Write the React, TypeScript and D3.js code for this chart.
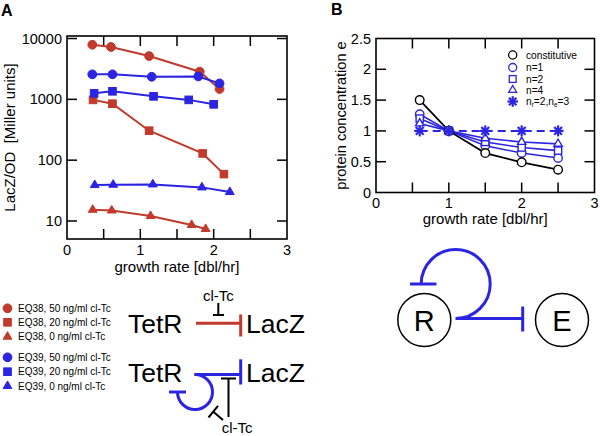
import React from "react";
import * as d3 from "d3";

// ---------- Panel A data ----------
const xEQ38_50 = [0.345, 0.6, 1.12, 1.81, 2.08];
const yEQ38_50 = [7900, 7250, 5150, 2850, 1480];
const xEQ38_20 = [0.355, 0.62, 1.12, 1.85, 2.14];
const yEQ38_20 = [980, 848, 305, 129, 59];
const xEQ38_0 = [0.35, 0.61, 1.14, 1.7, 1.89];
const yEQ38_0 = [15.3, 14.9, 12.1, 8.6, 7.4];
const xEQ39_50 = [0.345, 0.62, 1.155, 1.79, 2.08];
const yEQ39_50 = [2580, 2580, 2350, 2380, 1830];
const xEQ39_20 = [0.37, 0.62, 1.18, 1.66, 2.0];
const yEQ39_20 = [1255, 1356, 1120, 980, 828];
const xEQ39_0 = [0.378, 0.63, 1.17, 1.84, 2.22];
const yEQ39_0 = [39, 39.5, 40, 35.7, 30];

const legendA = [
  "EQ38, 50 ng/ml cl-Tc",
  "EQ38, 20 ng/ml cl-Tc",
  "EQ38, 0 ng/ml cl-Tc",
  "EQ39, 50 ng/ml cl-Tc",
  "EQ39, 20 ng/ml cl-Tc",
  "EQ39, 0 ng/ml cl-Tc",
];
const yTicksA = [10, 100, 1000, 10000];
const xTicksMajor = [0, 1, 2, 3];
const xTicksAll = [0.5, 1, 1.5, 2, 2.5];

// ---------- Panel B data ----------
const growthB = [0.6, 1, 1.5, 2, 2.5];
const eConstitutive = [1.5, 1.0, 0.64, 0.49, 0.37];
const eN1 = [1.27, 1.0, 0.76, 0.64, 0.56];
const eN2 = [1.2, 1.0, 0.82, 0.73, 0.68];
const eN4 = [1.12, 1.0, 0.88, 0.82, 0.79];
const eNrNe = [1.0, 1.0, 1.0, 1.0, 1.0];
const yTicksB = [0, 0.5, 1, 1.5, 2, 2.5];
const yTickLabelsB = ["0", "0.5", "1", "1.5", "2", "2.5"];
const legendB = ["constitutive", "n=1", "n=2", "n=4"];

const RED = "#c23a2c";
const BLUE = "#2b24e0";
const FONT = "'Liberation Sans', Arial, Helvetica, sans-serif";

function Marker({ shape, x, y, size, fill, stroke, sw = 1.5 }: any) {
  if (shape === "circle") {
    return <circle cx={x} cy={y} r={size} fill={fill} stroke={stroke} strokeWidth={sw} />;
  }
  if (shape === "square") {
    return (
      <rect x={x - size} y={y - size} width={size * 2} height={size * 2} fill={fill} stroke={stroke} strokeWidth={sw} />
    );
  }
  if (shape === "triangle") {
    const h = size * 1.9;
    const w = size * 2.2;
    const p = `${x - w / 2},${y + h / 3} ${x + w / 2},${y + h / 3} ${x},${y - (2 * h) / 3}`;
    return <polygon points={p} fill={fill} stroke={stroke} strokeWidth={sw} strokeLinejoin="miter" />;
  }
  const lines = [0, 45, 90, 135].map((a) => {
    const r = (a * Math.PI) / 180;
    return (
      <line
        key={a}
        x1={x - size * Math.cos(r)}
        y1={y - size * Math.sin(r)}
        x2={x + size * Math.cos(r)}
        y2={y + size * Math.sin(r)}
        stroke={stroke}
        strokeWidth={sw}
      />
    );
  });
  return <g>{lines}</g>;
}

export default function App() {
  const xA = d3.scaleLinear().domain([0, 3]).range([67, 287]);
  const yA = d3.scaleLog().domain([5.06, 11000]).range([239, 36]);
  const xB = d3.scaleLinear().domain([0, 3]).range([376, 594.5]);
  const yB = d3.scaleLinear().domain([0, 2.5]).range([192.5, 38.5]);

  const lineA = (xs: number[], ys: number[]) =>
    d3.line<number>().x((_, i) => xA(xs[i])).y((d) => yA(d))(ys) as string;
  const lineB = (ys: number[]) =>
    d3.line<number>().x((_, i) => xB(growthB[i])).y((d) => yB(d))(ys) as string;

  const seriesA = [
    { xs: xEQ38_50, ys: yEQ38_50, color: RED, shape: "circle", size: 4.4 },
    { xs: xEQ38_20, ys: yEQ38_20, color: RED, shape: "square", size: 3.8 },
    { xs: xEQ38_0, ys: yEQ38_0, color: RED, shape: "triangle", size: 4 },
    { xs: xEQ39_50, ys: yEQ39_50, color: BLUE, shape: "circle", size: 4.4 },
    { xs: xEQ39_20, ys: yEQ39_20, color: BLUE, shape: "square", size: 3.8 },
    { xs: xEQ39_0, ys: yEQ39_0, color: BLUE, shape: "triangle", size: 4 },
  ];

  const seriesB = [
    { ys: eN1, color: BLUE, shape: "circle", size: 4.2, dash: undefined, sw: 1.6 },
    { ys: eN2, color: BLUE, shape: "square", size: 3.6, dash: undefined, sw: 1.6 },
    { ys: eN4, color: BLUE, shape: "triangle", size: 3.8, dash: undefined, sw: 1.6 },
    { ys: eConstitutive, color: "#000", shape: "circle", size: 4.3, dash: undefined, sw: 1.8 },
    { ys: eNrNe, color: BLUE, shape: "star", size: 5.5, dash: "8,5", sw: 2 },
  ];

  const tick = 10;
  const [ax0, ax1] = xA.range();
  const [ay0, ay1] = yA.range();
  const [bx0, bx1] = xB.range();
  const [by0, by1] = yB.range();

  const legendAY = [308.3, 322.3, 336.7, 357.3, 371.7, 386];
  const legendBY = [55, 67.5, 79, 90, 101.5];

  return (
    <svg
      width={600}
      height={436}
      viewBox="0 0 600 436"
      style={{ position: "absolute", left: 0, top: 0, background: "#fff" }}
      fontFamily={FONT}
    >
      <rect x={0} y={0} width={600} height={436} fill="#fff" />
      <text x={1} y={16} fontSize={16} fontWeight="bold">A</text>
      <text x={331} y={15} fontSize={16} fontWeight="bold">B</text>

      {/* ===== Panel A ===== */}
      <g>
        {xTicksAll.map((t) => (
          <g key={"xa" + t}>
            <line x1={xA(t)} x2={xA(t)} y1={ay0} y2={ay0 - tick} stroke="#000" strokeWidth={1.5} />
            <line x1={xA(t)} x2={xA(t)} y1={ay1} y2={ay1 + tick} stroke="#000" strokeWidth={1.5} />
          </g>
        ))}
        {yTicksA.map((t) => (
          <g key={"ya" + t}>
            <line x1={ax0} x2={ax0 + tick} y1={yA(t)} y2={yA(t)} stroke="#000" strokeWidth={1.5} />
            <line x1={ax1} x2={ax1 - tick} y1={yA(t)} y2={yA(t)} stroke="#000" strokeWidth={1.5} />
            <text x={ax0 - 5} y={yA(t) + 5} fontSize={14.5} textAnchor="end">{t}</text>
          </g>
        ))}
        {xTicksMajor.map((t) => (
          <text key={"xla" + t} x={xA(t)} y={255} fontSize={14.5} textAnchor="middle">{t}</text>
        ))}
        <rect x={ax0} y={ay1} width={ax1 - ax0} height={ay0 - ay1} fill="none" stroke="#000" strokeWidth={1.6} />
        <text x={(ax0 + ax1) / 2} y={272} fontSize={15} textAnchor="middle">growth rate [dbl/hr]</text>
        <text
          transform={`translate(15,${(ay0 + ay1) / 2}) rotate(-90)`}
          fontSize={15}
          textAnchor="middle"
          xmlSpace="preserve"
        >
          LacZ/OD  [Miller units]
        </text>
        {seriesA.map((s, i) => (
          <g key={"sa" + i}>
            <path d={lineA(s.xs, s.ys)} fill="none" stroke={s.color} strokeWidth={2} />
            {s.ys.map((v, j) => (
              <Marker key={j} shape={s.shape} x={xA(s.xs[j])} y={yA(v)} size={s.size} fill={s.color} stroke={s.color} sw={1} />
            ))}
          </g>
        ))}
      </g>

      {/* Legend A */}
      {legendA.map((label, i) => {
        const s = seriesA[i];
        return (
          <g key={"la" + i}>
            <Marker shape={s.shape} x={7.5} y={legendAY[i]} size={s.size} fill={s.color} stroke={s.color} sw={1} />
            <text x={18} y={legendAY[i] + 3.6} fontSize={10}>{label}</text>
          </g>
        );
      })}

      {/* Diagram A row 1 */}
      <g>
        <text x={128} y={332.5} fontSize={26.5}>TetR</text>
        <text x={246} y={332.5} fontSize={26.5}>LacZ</text>
        <line x1={196} x2={240.7} y1={323.3} y2={323.3} stroke={RED} strokeWidth={3} />
        <line x1={240.7} x2={240.7} y1={314.5} y2={336.5} stroke={RED} strokeWidth={3} />
        <text x={218.3} y={300.5} fontSize={15} textAnchor="middle">cl-Tc</text>
        <line x1={218.3} x2={218.3} y1={303} y2={315} stroke="#000" strokeWidth={2} />
        <line x1={213} x2={224} y1={315} y2={315} stroke="#000" strokeWidth={2} />
      </g>
      {/* Diagram A row 2 */}
      <g>
        <text x={128} y={381.7} fontSize={26.5}>TetR</text>
        <text x={246} y={381.7} fontSize={26.5}>LacZ</text>
        <line x1={194.3} x2={240.7} y1={374.5} y2={374.5} stroke={BLUE} strokeWidth={3} />
        <line x1={240.7} x2={240.7} y1={359.3} y2={384.5} stroke={BLUE} strokeWidth={3} />
        <path d="M 195 374.5 A 17.5 17.5 0 1 1 177.5 392" fill="none" stroke={BLUE} strokeWidth={3} />
        <line x1={169} x2={186} y1={392} y2={392} stroke={BLUE} strokeWidth={3} />
        <line x1={228.5} x2={228.5} y1={417} y2={378.5} stroke="#000" strokeWidth={2} />
        <line x1={221} x2={236} y1={378.5} y2={378.5} stroke="#000" strokeWidth={2} />
        <line x1={223} x2={213.3} y1={420} y2={411.7} stroke="#000" strokeWidth={2} />
        <line x1={208.5} x2={218} y1={417.5} y2={405.9} stroke="#000" strokeWidth={2} />
        <text x={221.7} y={433.3} fontSize={15}>cl-Tc</text>
      </g>

      {/* ===== Panel B ===== */}
      <g>
        {xTicksAll.map((t) => (
          <g key={"xb" + t}>
            <line x1={xB(t)} x2={xB(t)} y1={by0} y2={by0 - tick} stroke="#000" strokeWidth={1.5} />
            <line x1={xB(t)} x2={xB(t)} y1={by1} y2={by1 + tick} stroke="#000" strokeWidth={1.5} />
          </g>
        ))}
        {yTicksB.map((t, i) => (
          <g key={"yb" + t}>
            {t > 0 && t < 2.5 && (
              <>
                <line x1={bx0} x2={bx0 + tick} y1={yB(t)} y2={yB(t)} stroke="#000" strokeWidth={1.5} />
                <line x1={bx1} x2={bx1 - tick} y1={yB(t)} y2={yB(t)} stroke="#000" strokeWidth={1.5} />
              </>
            )}
            <text x={bx0 - 5} y={yB(t) + 5} fontSize={14.5} textAnchor="end">{yTickLabelsB[i]}</text>
          </g>
        ))}
        {xTicksMajor.map((t) => (
          <text key={"xlb" + t} x={xB(t)} y={208} fontSize={14.5} textAnchor="middle">{t}</text>
        ))}
        <rect x={bx0} y={by1} width={bx1 - bx0} height={by0 - by1} fill="none" stroke="#000" strokeWidth={1.6} />
        <text x={(bx0 + bx1) / 2} y={224} fontSize={15} textAnchor="middle">growth rate [dbl/hr]</text>
        <text
          transform={`translate(346,${(by0 + by1) / 2}) rotate(-90)`}
          fontSize={14.6}
          textAnchor="middle"
        >
          protein concentration e
        </text>
        {seriesB.map((s, i) => (
          <path key={"lb" + i} d={lineB(s.ys)} fill="none" stroke={s.color} strokeWidth={s.sw} strokeDasharray={s.dash} />
        ))}
        {seriesB.map((s, i) => (
          <g key={"mb" + i}>
            {s.ys.map((v, j) => (
              <Marker key={j} shape={s.shape} x={xB(growthB[j])} y={yB(v)} size={s.size} fill="#fff" stroke={s.color} sw={s.shape === "star" ? 2.2 : 1.4} />
            ))}
          </g>
        ))}
      </g>

      {/* Legend B */}
      {[seriesB[3], seriesB[0], seriesB[1], seriesB[2], seriesB[4]].map((s, i) => (
        <Marker key={"lbm" + i} shape={s.shape} x={512.7} y={legendBY[i]} size={s.shape === "star" ? 5.3 : s.size * 0.95} fill="#fff" stroke={s.color} sw={s.shape === "star" ? 2.2 : 1.3} />
      ))}
      {legendB.map((label, i) => (
        <text key={"lbt" + i} x={526} y={legendBY[i] + 3.6} fontSize={10.2}>{label}</text>
      ))}
      <text x={526} y={legendBY[4] + 3.2} fontSize={10.2}>
        n<tspan fontSize={6.5} dy={2}>r</tspan>
        <tspan dy={-2}>=2,n</tspan>
        <tspan fontSize={6.5} dy={2}>e</tspan>
        <tspan dy={-2}>=3</tspan>
      </text>

      {/* Diagram B */}
      <g>
        <circle cx={424.3} cy={320} r={26.5} fill="none" stroke="#000" strokeWidth={1.5} />
        <text x={424.3} y={331} fontSize={29} textAnchor="middle">R</text>
        <circle cx={562} cy={320} r={26.5} fill="none" stroke="#000" strokeWidth={1.5} />
        <text x={562} y={331} fontSize={29} textAnchor="middle">E</text>
        <line x1={455.7} x2={522.7} y1={318.5} y2={318.5} stroke={BLUE} strokeWidth={3} />
        <line x1={522.7} x2={522.7} y1={306.5} y2={331.5} stroke={BLUE} strokeWidth={3} />
        <path d="M 455.7 318.5 A 34.5 34.5 0 1 0 421.2 284" fill="none" stroke={BLUE} strokeWidth={3} />
        <line x1={410} x2={436.5} y1={284} y2={284} stroke={BLUE} strokeWidth={3} />
      </g>
    </svg>
  );
}
